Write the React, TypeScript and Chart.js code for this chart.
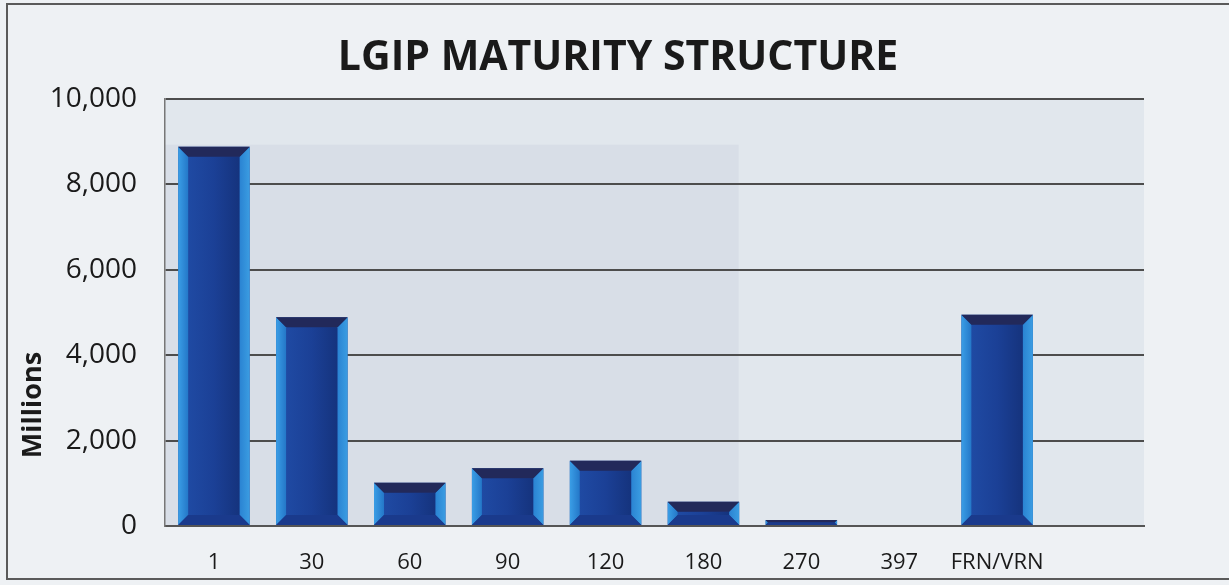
import React, { useEffect, useRef } from "react";
import { Chart, registerables } from "chart.js";

Chart.register(...registerables);

const categories = ["1", "30", "60", "90", "120", "180", "270", "397", "FRN/VRN", ""];
const amounts = [8880, 4890, 1010, 1350, 1530, 570, 140, 0, 4950, null];
const yTicks = [0, 2000, 4000, 6000, 8000, 10000];

const chartTitle = "LGIP MATURITY STRUCTURE";
const yAxisTitle = "Millions";

const backgroundPlugin = {
  id: "bgPlugin",
  beforeDraw(chart: any) {
    const { ctx, chartArea, width, height } = chart;
    ctx.save();
    ctx.fillStyle = "#eef1f4";
    ctx.fillRect(0, 0, width, height);
    ctx.fillStyle = "#e1e7ed";
    ctx.fillRect(chartArea.left, chartArea.top, chartArea.right - chartArea.left, chartArea.bottom - chartArea.top);
    const w = chartArea.right - chartArea.left;
    const h = chartArea.bottom - chartArea.top;
    ctx.fillStyle = "#d8dee7";
    ctx.fillRect(chartArea.left, chartArea.top + h * 0.107, w * 0.586, h * 0.893);
    ctx.strokeStyle = "#5a5a5a";
    ctx.lineWidth = 2;
    ctx.strokeRect(7, 4, width + 10, 575);
    ctx.restore();
  },
};

const bevelPlugin = {
  id: "bevelPlugin",
  afterDatasetsDraw(chart: any) {
    const { ctx } = chart;
    const meta = chart.getDatasetMeta(0);
    ctx.save();
    meta.data.forEach((bar: any, i: number) => {
      const v = amounts[i];
      if (v === null || v === undefined || v <= 0) return;
      const { x, y, base, width } = bar.getProps(["x", "y", "base", "width"], true);
      const l = x - width / 2;
      const r = x + width / 2;
      const t = Math.min(y, base);
      const bo = Math.max(y, base);
      const b = Math.min(10, (bo - t) / 2);
      const poly = (pts: number[][], fill: any) => {
        ctx.beginPath();
        ctx.moveTo(pts[0][0], pts[0][1]);
        for (let k = 1; k < pts.length; k++) ctx.lineTo(pts[k][0], pts[k][1]);
        ctx.closePath();
        ctx.fillStyle = fill;
        ctx.fill();
      };
      const fg = ctx.createLinearGradient(l + b, 0, r - b, 0);
      fg.addColorStop(0, "#1f4aa3");
      fg.addColorStop(0.5, "#1b4096");
      fg.addColorStop(1, "#15337d");
      poly([[l + b, t + b], [r - b, t + b], [r - b, bo - b], [l + b, bo - b]], fg);
      const lg = ctx.createLinearGradient(l, 0, l + b, 0);
      lg.addColorStop(0, "#3a9ee6");
      lg.addColorStop(1, "#2477c8");
      poly([[l, t], [l + b, t + b], [l + b, bo - b], [l, bo]], lg);
      const rg = ctx.createLinearGradient(r - b, 0, r, 0);
      rg.addColorStop(0, "#2a83d2");
      rg.addColorStop(1, "#3b9de2");
      poly([[r, t], [r - b, t + b], [r - b, bo - b], [r, bo]], rg);
      poly([[l, t], [r, t], [r - b, t + b], [l + b, t + b]], "#22295a");
      poly([[l, bo], [l + b, bo - b], [r - b, bo - b], [r, bo]], "#1a3a8c");
    });
    ctx.restore();
  },
};

const textPlugin = {
  id: "textPlugin",
  afterDraw(chart: any) {
    const { ctx } = chart;
    ctx.save();
    ctx.fillStyle = "#1a1a1a";
    ctx.textAlign = "center";
    ctx.textBaseline = "middle";
    ctx.font = "bold 41px 'Open Sans'";
    ctx.fillText(chartTitle, 618, 58);
    ctx.translate(33, 405);
    ctx.rotate(-Math.PI / 2);
    ctx.font = "bold 27px 'Open Sans'";
    ctx.fillText(yAxisTitle, 0, 0);
    ctx.restore();
  },
};

export default function App() {
  const canvasRef = useRef<HTMLCanvasElement>(null);

  useEffect(() => {
    document.body.style.margin = "0";
    const canvas = canvasRef.current;
    if (!canvas) return;
    const chart = new Chart(canvas, {
      type: "bar",
      data: {
        labels: categories,
        datasets: [
          {
            label: "Amount",
            data: amounts as any,
            backgroundColor: "#1b4199",
            borderWidth: 0,
            barPercentage: 0.73,
            categoryPercentage: 1,
          },
        ],
      },
      options: {
        responsive: false,
        animation: false,
        locale: "en-US",
        layout: { padding: { left: 0, right: 85, top: 99, bottom: 0 } },
        plugins: {
          legend: { display: false },
          tooltip: { enabled: false },
          title: { display: false },
        },
        scales: {
          x: {
            grid: { display: false, drawTicks: false },
            border: { display: true, color: "#555555", width: 2 },
            ticks: {
              color: "#1a1a1a",
              font: { family: "'Open Sans'", size: 22 },
              padding: 24,
              maxRotation: 0,
              autoSkip: false,
            },
            afterFit(scale: any) {
              scale.height = 59;
            },
          },
          y: {
            min: 0,
            max: 10000,
            afterBuildTicks(scale: any) {
              scale.ticks = yTicks.map((v) => ({ value: v }));
            },
            grid: { color: "#4d4d4d", lineWidth: 2, drawTicks: false },
            border: { display: true, color: "#777777", width: 1.5 },
            ticks: {
              color: "#1a1a1a",
              font: { family: "'Open Sans'", size: 28 },
              padding: 28,
            },
            afterFit(scale: any) {
              scale.width = 165;
            },
          },
        },
      },
      plugins: [backgroundPlugin, bevelPlugin, textPlugin],
    });
    return () => chart.destroy();
  }, []);

  return (
    <div style={{ width: 1229, height: 585 }}>
      <canvas ref={canvasRef} width={1229} height={585} />
    </div>
  );
}
